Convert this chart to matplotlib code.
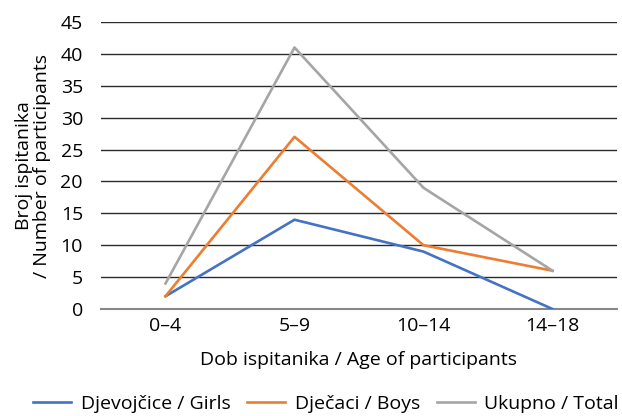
import matplotlib
matplotlib.use("Agg")
import matplotlib.pyplot as plt
import numpy as np

plt.rcParams['font.family'] = ['Open Sans', 'DejaVu Sans']

categories = ["0–4", "5–9", "10–14", "14–18"]
girls = [2, 14, 9, 0]
boys = [2, 27, 10, 6]
total = [4, 41, 19, 6]
series_labels = ["Djevojčice / Girls", "Dječaci / Boys", "Ukupno / Total"]
colors = ["#4472C4", "#ED7D31", "#A5A5A5"]

fs = 14

fig = plt.figure(figsize=(6.22, 4.16), dpi=100)
ax = fig.add_axes([101 / 622, 1 - 309 / 416, 516 / 622, (309 - 22) / 416])

x = np.arange(len(categories))
for vals, lab, c in zip([girls, boys, total], series_labels, colors):
    ax.plot(x, vals, color=c, lw=1.9, label=lab, zorder=3)

ax.set_xlim(-0.5, len(categories) - 0.5)
ax.set_ylim(0, 45)
ax.set_yticks(range(0, 46, 5))
ax.set_xticks(x)
ax.set_xticklabels(categories)
ax.yaxis.grid(True, color="#2b2b2b", lw=1.0)
ax.set_axisbelow(True)
for s in ["top", "right", "left"]:
    ax.spines[s].set_visible(False)
ax.spines["bottom"].set_color("#888888")
ax.spines["bottom"].set_linewidth(1.5)
ax.spines["bottom"].set_zorder(2)
ax.tick_params(axis="both", length=0, labelsize=fs, colors="black")
ax.tick_params(axis="y", pad=13)
ax.tick_params(axis="x", pad=6)
ax.set_xlabel("Dob ispitanika / Age of participants", fontsize=fs, labelpad=11)
ax.set_ylabel("Broj ispitanika\n/ Number of participants", fontsize=fs, labelpad=7, linespacing=1.0)

fig.legend(loc="center", bbox_to_anchor=(326 / 622, 1 - 404 / 416), ncol=3, frameon=False,
           fontsize=fs, handlelength=1.95, columnspacing=0.85, handletextpad=0.5,
           borderpad=0, borderaxespad=0)

fig.savefig("out.png", dpi=100)
